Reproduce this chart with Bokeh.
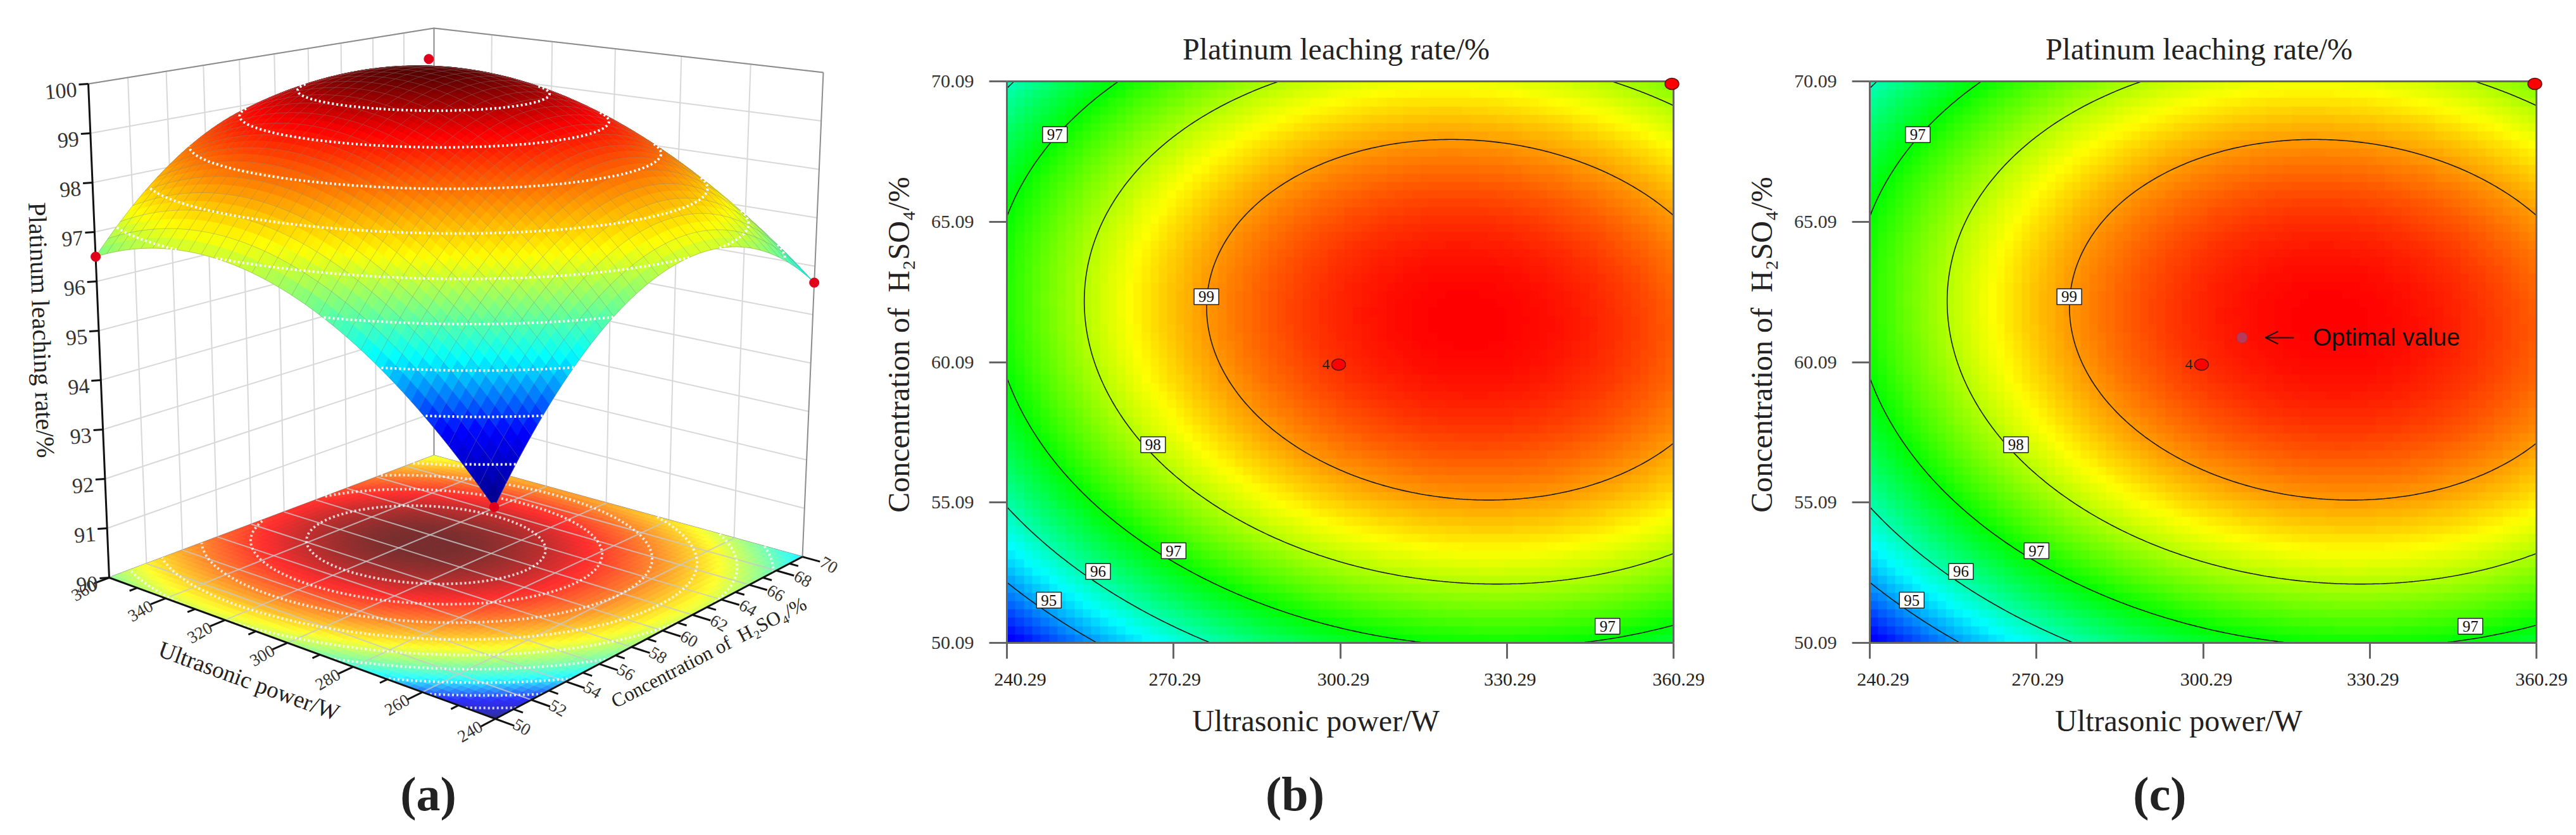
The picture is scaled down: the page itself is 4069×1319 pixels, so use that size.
import numpy as np
import contourpy
from bokeh.core.properties import value
from bokeh.embed import file_html
from bokeh.layouts import row
from bokeh.models import Arrow, ColumnDataSource, FixedTicker, Label, LabelSet, LinearAxis, LinearColorMapper, OpenHead, Range1d
from bokeh.plotting import figure
from bokeh.resources import INLINE

# ---- panel (a) values, read from the 3-D surface ----
POWER_A = [240, 250, 260, 270, 280, 290, 300, 310, 320, 330, 340, 350, 360]
CONC_A = [50, 52, 54, 56, 58, 60, 62, 64, 66, 68, 70]
Z_A = [
    [93.70, 94.42, 95.06, 95.61, 96.07, 96.44, 96.71, 96.90, 97.00, 97.01, 96.93, 96.76, 96.50],
    [94.70, 95.43, 96.07, 96.63, 97.08, 97.44, 97.71, 97.88, 97.97, 97.96, 97.85, 97.66, 97.36],
    [95.52, 96.26, 96.90, 97.45, 97.91, 98.27, 98.52, 98.69, 98.75, 98.72, 98.59, 98.37, 98.05],
    [96.16, 96.91, 97.54, 98.08, 98.54, 98.88, 99.13, 99.28, 99.34, 99.28, 99.14, 98.90, 98.56],
    [96.63, 97.36, 98.00, 98.54, 98.98, 99.32, 99.55, 99.70, 99.73, 99.67, 99.51, 99.25, 98.89],
    [96.91, 97.63, 98.27, 98.80, 99.22, 99.55, 99.77, 99.91, 99.93, 99.86, 99.68, 99.41, 99.04],
    [97.02, 97.73, 98.35, 98.86, 99.28, 99.60, 99.81, 99.93, 99.94, 99.86, 99.68, 99.39, 99.01],
    [96.95, 97.65, 98.23, 98.73, 99.14, 99.44, 99.64, 99.75, 99.76, 99.66, 99.47, 99.19, 98.81],
    [96.70, 97.37, 97.94, 98.43, 98.82, 99.11, 99.29, 99.39, 99.39, 99.29, 99.09, 98.81, 98.42],
    [96.27, 96.91, 97.46, 97.92, 98.29, 98.56, 98.74, 98.82, 98.82, 98.72, 98.52, 98.24, 97.85],
    [95.66, 96.27, 96.80, 97.23, 97.58, 97.83, 98.00, 98.08, 98.06, 97.96, 97.77, 97.48, 97.11],
]
RING_LEVELS_A = [94.3, 94.98, 95.65, 96.33, 97.0, 97.68, 98.35, 98.97, 99.5]
DOT_POWER_A = [360, 240, 240, 360]
DOT_CONC_A = [50, 70, 50, 69.65]
DOT_Z_A = [96.5, 95.66, 93.7, 99.3]
Z_TICKS_A = [90, 91, 92, 93, 94, 95, 96, 97, 98, 99, 100]
POWER_TICKS_A = [240, 260, 280, 300, 320, 340, 360]
POWER_MINOR_A = [250, 270, 290, 310, 330, 350]
CONC_TICKS_A = [50, 52, 54, 56, 58, 60, 62, 64, 66, 68, 70]
CONC_MINOR_A = [51, 53, 55, 57, 59, 61, 63, 65, 67, 69]

# ---- panels (b), (c) values ----
POWER_B = [240.29, 250.29, 260.29, 270.29, 280.29, 290.29, 300.29, 310.29, 320.29, 330.29, 340.29, 350.29, 360.29]
CONC_B = [50.09, 52.09, 54.09, 56.09, 58.09, 60.09, 62.09, 64.09, 66.09, 68.09, 70.09]
Z_B = [
    [93.97, 94.63, 95.21, 95.71, 96.13, 96.48, 96.74, 96.93, 97.04, 97.07, 97.03, 96.91, 96.71],
    [94.93, 95.58, 96.15, 96.64, 97.06, 97.39, 97.65, 97.83, 97.94, 97.96, 97.91, 97.78, 97.57],
    [95.72, 96.36, 96.92, 97.41, 97.81, 98.14, 98.39, 98.57, 98.66, 98.68, 98.62, 98.48, 98.26],
    [96.34, 96.97, 97.52, 98.00, 98.40, 98.72, 98.96, 99.13, 99.21, 99.22, 99.15, 99.01, 98.78],
    [96.78, 97.41, 97.96, 98.43, 98.82, 99.13, 99.36, 99.52, 99.60, 99.60, 99.52, 99.37, 99.14],
    [97.06, 97.68, 98.22, 98.68, 99.06, 99.37, 99.60, 99.74, 99.82, 99.81, 99.72, 99.56, 99.32],
    [97.17, 97.78, 98.31, 98.77, 99.14, 99.44, 99.66, 99.80, 99.86, 99.85, 99.75, 99.58, 99.33],
    [97.11, 97.72, 98.24, 98.68, 99.05, 99.34, 99.55, 99.68, 99.74, 99.71, 99.61, 99.43, 99.18],
    [96.89, 97.48, 97.99, 98.43, 98.79, 99.07, 99.27, 99.40, 99.44, 99.41, 99.30, 99.12, 98.85],
    [96.49, 97.07, 97.58, 98.01, 98.36, 98.63, 98.83, 98.94, 98.98, 98.94, 98.83, 98.63, 98.36],
    [95.92, 96.50, 96.99, 97.42, 97.76, 98.02, 98.21, 98.32, 98.35, 98.30, 98.18, 97.97, 97.69],
]
CONTOUR_LEVELS = [95, 96, 97, 98, 99]
X_TICKS = [240.29, 270.29, 300.29, 330.29, 360.29]
X_TICK_LABELS = ["240.29", "270.29", "300.29", "330.29", "360.29"]
Y_TICKS = [50.09, 55.09, 60.09, 65.09, 70.09]
BOX_POWER = [248.93, 276.2, 266.6, 270.3, 256.7, 247.85, 348.4]
BOX_CONC = [68.19, 62.42, 57.15, 53.37, 52.63, 51.61, 50.68]
BOX_TEXT = ["97", "99", "98", "97", "96", "95", "97"]
DESIGN_POWER = [300.0, 360.0]
DESIGN_CONC = [60.0, 70.0]
OPTIMAL_POWER = [307.3]
OPTIMAL_CONC = [60.96]

SERIF = "Liberation Serif"
FULL_H = 1319


def hex_color(c):
    return "#%02x%02x%02x" % tuple(int(round(v)) for v in c)


def ramp(stops, f):
    f = np.clip(f, 0, 1)
    pos = [s[0] for s in stops]
    return [np.interp(f, pos, [s[1][i] for s in stops]) for i in range(3)]


def resample(px, py, table, nx, ny):
    # smooth the read-off table along each axis with a low-order polynomial
    xf = np.linspace(px[0], px[-1], nx)
    yf = np.linspace(py[0], py[-1], ny)
    t = np.array(table, dtype=float)
    x0, y0 = np.mean(px), np.mean(py)
    a = np.array([np.polyval(np.polyfit(np.array(px) - x0, r, 4), xf - x0) for r in t])
    b = np.array([np.polyval(np.polyfit(np.array(py) - y0, c, 4), yf - y0) for c in a.T]).T
    return xf, yf, b


# ---------------------------------------------------------------- panel (a)
def homography(p00, p10, p11, p01):
    (x0, y0), (x1, y1), (x2, y2), (x3, y3) = p00, p10, p11, p01
    dx1, dx2, sx = x1 - x2, x3 - x2, x0 - x1 + x2 - x3
    dy1, dy2, sy = y1 - y2, y3 - y2, y0 - y1 + y2 - y3
    d = dx1 * dy2 - dx2 * dy1
    g = (sx * dy2 - dx2 * sy) / d
    h = (dx1 * sy - sx * dy1) / d
    m = (x1 - x0 + g * x1, x3 - x0 + h * x3, x0, y1 - y0 + g * y1, y3 - y0 + h * y3, y0, g, h)

    def f(s, t):
        w = m[6] * s + m[7] * t + 1
        return (m[0] * s + m[1] * t + m[2]) / w, (m[3] * s + m[4] * t + m[5]) / w
    return f


BASE = homography((782, 1135), (172, 912), (685, 719), (1267, 879))
TOP = homography((777, 231), (139, 132), (685, 44), (1300, 114))


def proj(power, conc, z):
    s = (np.asarray(power, dtype=float) - 240) / 120
    t = (np.asarray(conc, dtype=float) - 50) / 20
    f = (np.asarray(z, dtype=float) - 90) / 10
    bx, by = BASE(s, t)
    tx, ty = TOP(s, t)
    return bx + (tx - bx) * f, by + (ty - by) * f


STOPS_3D = [(0, (0, 0, 128)), (.17, (0, 0, 255)), (.34, (0, 255, 255)), (.58, (255, 255, 0)),
            (.87, (255, 0, 0)), (1, (90, 0, 0))]
zmin_a, zmax_a = np.min(Z_A), np.max(Z_A)


def surf_color(z, white=0.0):
    c = np.array(ramp(STOPS_3D, (z - zmin_a) / (zmax_a - zmin_a)))
    return hex_color(c * (1 - white) + 255 * white)


def runs(points, flags):
    out, cur = [], []
    for p, fl in zip(points, flags):
        if fl:
            cur.append(p)
        else:
            if len(cur) > 1:
                out.append(cur)
            cur = []
    if len(cur) > 1:
        out.append(cur)
    return out


def build_a():
    p = figure(width=1340, height=FULL_H, x_range=Range1d(0, 1340), y_range=Range1d(FULL_H, 0),
               output_backend="svg", toolbar_location=None, min_border=0, outline_line_color=None,
               frame_align=False, x_axis_type=None, y_axis_type=None)
    p.grid.visible = False

    # walls
    gx, gy = [], []
    for z in Z_TICKS_A:
        a = proj([360, 360, 240], [50, 70, 70], [z, z, z])
        gx.append(list(a[0])); gy.append(list(a[1]))
    for c in CONC_TICKS_A[1:-1]:
        a = proj([360, 360], [c, c], [90, 100])
        gx.append(list(a[0])); gy.append(list(a[1]))
    for w in POWER_TICKS_A[1:-1]:
        a = proj([w, w], [70, 70], [90, 100])
        gx.append(list(a[0])); gy.append(list(a[1]))
    p.multi_line(gx, gy, line_color="#d8d8d8", line_width=2)
    ex, ey = [], []
    for pw, cc, zz in [([360, 360, 240], [50, 70, 70], [100, 100, 100]),
                       ([360, 360], [70, 70], [90, 100]),
                       ([240, 240], [70, 70], [90, 100]),
                       ([360, 360, 240], [50, 70, 70], [90, 90, 90])]:
        a = proj(pw, cc, zz)
        ex.append(list(a[0])); ey.append(list(a[1]))
    p.multi_line(ex, ey, line_color="#8c8c8c", line_width=2)

    # resampled surface
    n = 60
    pf, cf, zf = resample(POWER_A, CONC_A, Z_A, n + 1, n + 1)
    P, C = np.meshgrid(pf, cf)
    bx, by = proj(P, C, np.full_like(zf, 90.0))
    sx, sy = proj(P, C, zf)

    def area(x, y):
        return ((x[:-1, 1:] - x[:-1, :-1]) * (y[1:, :-1] - y[:-1, :-1])
                - (x[1:, :-1] - x[:-1, :-1]) * (y[:-1, 1:] - y[:-1, :-1]))
    sign = np.sign(area(bx, by))
    vis = (area(sx, sy) * sign) > 0
    vv = np.zeros_like(zf, dtype=bool)
    vv[:-1, :-1] |= vis; vv[1:, :-1] |= vis; vv[:-1, 1:] |= vis; vv[1:, 1:] |= vis

    # base
    xs, ys, cols = [], [], []
    for j in range(n):
        for i in range(n):
            xs.append([bx[j, i], bx[j, i + 1], bx[j + 1, i + 1], bx[j + 1, i]])
            ys.append([by[j, i], by[j, i + 1], by[j + 1, i + 1], by[j + 1, i]])
            cols.append(surf_color(zf[j:j + 2, i:i + 2].mean(), 0.18))
    p.patches(xs, ys, fill_color=cols, line_color=cols, line_width=1)
    gx, gy = [], []
    for w in POWER_TICKS_A[1:-1]:
        a = proj([w, w], [50, 70], [90, 90])
        gx.append(list(a[0])); gy.append(list(a[1]))
    for c in CONC_TICKS_A[1:-1]:
        a = proj([240, 360], [c, c], [90, 90])
        gx.append(list(a[0])); gy.append(list(a[1]))
    p.multi_line(gx, gy, line_color="#c8c8c8", line_width=2, line_alpha=0.8)

    gen = contourpy.contour_generator(x=pf, y=cf, z=zf)
    rb_x, rb_y, rs_x, rs_y = [], [], [], []
    for lev in RING_LEVELS_A:
        for line in gen.lines(lev):
            x0, y0 = proj(line[:, 0], line[:, 1], np.full(len(line), 90.0))
            rb_x.append(list(x0)); rb_y.append(list(y0))
            x1, y1 = proj(line[:, 0], line[:, 1], np.full(len(line), lev))
            ii = np.clip(np.searchsorted(pf, line[:, 0]) - 1, 0, n - 1)
            jj = np.clip(np.searchsorted(cf, line[:, 1]) - 1, 0, n - 1)
            for r in runs(list(zip(x1, y1)), vis[jj, ii]):
                rs_x.append([q[0] for q in r]); rs_y.append([q[1] for q in r])
    p.multi_line(rb_x, rb_y, line_color="#ffffff", line_width=4, line_alpha=0.8, line_dash="3 4")

    # axes lines and ticks
    ax_x, ax_y = [], []
    for pw, cc, zz in [([360, 360], [50, 50], [90, 100]), ([360, 240, 240], [50, 50, 70], [90, 90, 90])]:
        a = proj(pw, cc, zz)
        ax_x.append(list(a[0])); ax_y.append(list(a[1]))
    for w in POWER_TICKS_A:
        a = proj([w, w], [50, 49.2], [90, 90])
        ax_x.append(list(a[0])); ax_y.append(list(a[1]))
    for w in POWER_MINOR_A:
        a = proj([w, w], [50, 49.6], [90, 90])
        ax_x.append(list(a[0])); ax_y.append(list(a[1]))
    for c in CONC_TICKS_A:
        a = proj([240, 235], [c, c], [90, 90])
        ax_x.append(list(a[0])); ax_y.append(list(a[1]))
    for c in CONC_MINOR_A:
        a = proj([240, 237.5], [c, c], [90, 90])
        ax_x.append(list(a[0])); ax_y.append(list(a[1]))
    for z in Z_TICKS_A:
        a = proj([360, 360], [50, 50], [z, z])
        ax_x.append([float(a[0][0]), float(a[0][0]) - 15]); ax_y.append([float(a[1][0]), float(a[1][0]) + 1])
    p.multi_line(ax_x, ax_y, line_color="#111111", line_width=3)

    # surface quads, back to front
    xs, ys, cols = [], [], []
    for j in range(n - 1, -1, -1):
        for i in range(n - 1, -1, -1):
            if vis[j, i]:
                xs.append([sx[j, i], sx[j, i + 1], sx[j + 1, i + 1], sx[j + 1, i]])
                ys.append([sy[j, i], sy[j, i + 1], sy[j + 1, i + 1], sy[j + 1, i]])
                cols.append(surf_color(zf[j:j + 2, i:i + 2].mean()))
    p.patches(xs, ys, fill_color=cols, line_color=cols, line_width=1)

    # mesh
    mx, my = [], []
    for i in range(0, n + 1, 2):
        for r in runs(list(zip(sx[:, i], sy[:, i])), vv[:, i]):
            mx.append([q[0] for q in r]); my.append([q[1] for q in r])
        for r in runs(list(zip(sx[i, :], sy[i, :])), vv[i, :]):
            mx.append([q[0] for q in r]); my.append([q[1] for q in r])
    p.multi_line(mx, my, line_color="#808080", line_width=1, line_alpha=0.4)
    p.multi_line(rs_x, rs_y, line_color="#ffffff", line_width=4, line_dash="3 4")

    dx, dy = proj(DOT_POWER_A, DOT_CONC_A, DOT_Z_A)
    p.scatter(dx, dy, size=15, fill_color="#e0001a", line_color="#e0001a")

    # tick labels
    def put(texts, xx, yy, angle, size, align="center"):
        src = ColumnDataSource(dict(x=list(xx), y=list(yy), t=texts))
        p.add_layout(LabelSet(x="x", y="y", text="t", source=src, angle=angle, angle_units="deg",
                              text_font=value(SERIF), text_font_size=size, text_color="#333333",
                              text_align=align, text_baseline="middle"))

    a = proj(POWER_TICKS_A, [50] * len(POWER_TICKS_A), [90] * len(POWER_TICKS_A))
    put([str(v) for v in POWER_TICKS_A], a[0] - 40, a[1] + 20, 30, "27px")
    a = proj([240] * len(CONC_TICKS_A), CONC_TICKS_A, [90] * len(CONC_TICKS_A))
    put([str(v) for v in CONC_TICKS_A], a[0] + 42, a[1] + 13, -30, "27px")
    a = proj([360] * len(Z_TICKS_A), [50] * len(Z_TICKS_A), Z_TICKS_A)
    put([str(v) for v in Z_TICKS_A], a[0] - 18, a[1] + 9, 5, "34px", "right")

    def lab(text, x, y, angle, size, bold=False):
        p.add_layout(Label(x=x, y=y, text=text, angle=angle, angle_units="deg", text_font=SERIF,
                           text_font_size=size, text_color="#222222", text_align="center",
                           text_baseline="middle", text_font_style="bold" if bold else "normal"))
    lab("Platinum leaching rate/%", 65, 521, -88, "40px")
    lab("Ultrasonic power/W", 393, 1075, -20, "37px")
    lab("Concentration of \u00a0H\u2082SO\u2084/%", 1119, 1030, 27.5, "31px")
    lab("(a)", 676, 1253, 0, "76px", True)
    return p


# ---------------------------------------------------------------- panels (b)(c)
STOPS_2D = [(0, (0, 0, 255)), (.25, (0, 255, 255)), (.5, (0, 255, 0)), (.75, (255, 255, 0)), (1, (255, 0, 0))]
PALETTE = [hex_color(ramp(STOPS_2D, i / 255)) for i in range(256)]


def build_map(letter, left, total_w, letter_dx, optimal):
    frame_w, frame_h, top = 1053, 887, 128
    x0, x1 = POWER_B[0], POWER_B[-1]
    y0, y1 = CONC_B[0], CONC_B[-1]

    def to_x(dpx):
        return x0 + dpx / frame_w * (x1 - x0)

    def to_y(py):
        return y1 - (py - top) / frame_h * (y1 - y0)

    p = figure(width=total_w, height=FULL_H, x_range=Range1d(to_x(-left), to_x(total_w - left)),
               y_range=Range1d(to_y(FULL_H), to_y(0)), output_backend="svg", toolbar_location=None,
               min_border=0, outline_line_color=None, frame_align=False, x_axis_type=None, y_axis_type=None)
    p.grid.visible = False

    pf, cf, zf = resample(POWER_B, CONC_B, Z_B, 79, 67)
    mapper = LinearColorMapper(palette=PALETTE, low=94.0, high=99.87)
    p.image(image=[zf], x=x0, y=y0, dw=x1 - x0, dh=y1 - y0, color_mapper=mapper)
    xf, yf, zc = resample(POWER_B, CONC_B, Z_B, 241, 161)
    p.contour(xf, yf, zc, levels=CONTOUR_LEVELS, line_color="#1a1a1a", line_width=1.6)
    p.line([x0, x1, x1], [y1, y1, y0], line_color="#666666", line_width=3)

    xax = LinearAxis(fixed_location=y0, bounds=(x0, x1), ticker=FixedTicker(ticks=X_TICKS))
    yax = LinearAxis(fixed_location=x0, bounds=(y0, y1), ticker=FixedTicker(ticks=Y_TICKS))
    for ax in (xax, yax):
        ax.axis_line_color = "#666666"
        ax.axis_line_width = 3
        ax.major_tick_line_color = "#666666"
        ax.major_tick_line_width = 3
        ax.major_tick_in = 0
        ax.minor_tick_line_color = None
    xax.major_tick_out = 25
    yax.major_tick_out = 28
    xax.major_label_overrides = {t: "" for t in X_TICKS}
    yax.major_label_text_font = SERIF
    yax.major_label_text_font_size = "30px"
    yax.major_label_text_color = "#333333"
    yax.major_label_standoff = 24
    yax.major_label_overrides = {t: "%.2f" % t for t in Y_TICKS}
    p.add_layout(xax, "below")
    p.add_layout(yax, "left")

    p.rect(BOX_POWER, BOX_CONC, width=39, height=25, width_units="screen", height_units="screen",
           fill_color="#ffffff", line_color="#222222", line_width=1.5)
    p.text(BOX_POWER, BOX_CONC, text=BOX_TEXT, text_font=value(SERIF), text_font_size="25px",
           text_color="#111111", text_align="center", text_baseline="middle")

    p.ellipse(DESIGN_POWER, DESIGN_CONC, width=22, height=18, width_units="screen", height_units="screen",
              fill_color="#ff0000", line_color="#5a1010", line_width=1.5)
    p.text([to_x(504)], [DESIGN_CONC[0]], text=["4"], text_font=value(SERIF), text_font_size="24px",
           text_color="#222222", text_align="center", text_baseline="middle")

    if optimal:
        p.scatter(OPTIMAL_POWER, OPTIMAL_CONC, size=17, fill_color="#b83a5a", line_color="#a83050")
        p.add_layout(Arrow(end=OpenHead(size=20, line_color="#111111", line_width=2), line_color="#111111",
                           line_width=2, x_start=to_x(670), y_start=OPTIMAL_CONC[0], x_end=to_x(625),
                           y_end=OPTIMAL_CONC[0]))
        p.text([to_x(700)], [OPTIMAL_CONC[0]], text=["Optimal value"], text_font=value("Liberation Sans"),
               text_font_size="38px", text_color="#111111", text_align="left", text_baseline="middle")

    def lab(text, dpx, py, size, angle=0, bold=False):
        p.add_layout(Label(x=to_x(dpx), y=to_y(py), text=text, angle=angle, angle_units="deg", text_font=SERIF,
                           text_font_size=size, text_color="#222222", text_align="center",
                           text_baseline="middle", text_font_style="bold" if bold else "normal"))
    for t, d, s in zip(X_TICKS, [21, 2, 5, 5, 8], X_TICK_LABELS):
        lab(s, (t - x0) / (x1 - x0) * frame_w + d, 1073, "30px")
    lab("Platinum leaching rate/%", 520, 77, "48px")
    lab("Ultrasonic power/W", 488, 1138, "48px")
    lab("Concentration of \u00a0H\u2082SO\u2084/%", -171, 544, "48px", 90)
    lab(letter, letter_dx, 1253, "76px", 0, True)
    return p


p_a = build_a()
p_b = build_map("(b)", 250, 1360, 455, False)
p_c = build_map("(c)", 253, 1369, 458, True)
page = row(p_a, p_b, p_c, spacing=0)
open("out.html", "w").write(file_html(page, INLINE))
